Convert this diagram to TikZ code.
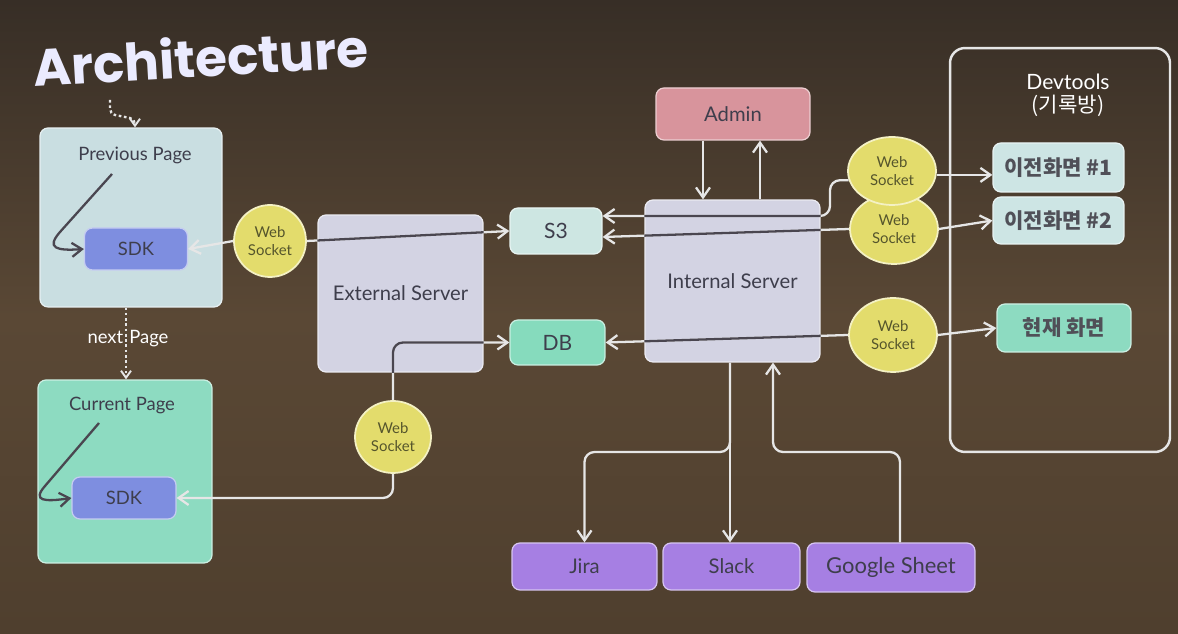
\documentclass[tikz,border=0pt]{standalone}
\usepackage{fontspec}
\usepackage{graphicx}
\setmainfont{Lato}
\newfontfamily\kr{Noto Sans CJK KR}
\newfontfamily\titlefont{Poppins}
\usetikzlibrary{arrows.meta,shapes.geometric}
\definecolor{bgtop}{HTML}{372E26}
\definecolor{bgmid}{HTML}{5A4835}
\definecolor{bgbot}{HTML}{4F3F2E}
\definecolor{prevfill}{HTML}{C9DEE1}
\definecolor{sdkfill}{HTML}{7E8EE0}
\definecolor{curfill}{HTML}{8DDBC1}
\definecolor{wsfill}{HTML}{E3DC6C}
\definecolor{srvfill}{HTML}{D3D3E3}
\definecolor{s3fill}{HTML}{CDE6E2}
\definecolor{dbfill}{HTML}{86DBBD}
\definecolor{adminfill}{HTML}{D8949C}
\definecolor{purp}{HTML}{A67FE3}
\definecolor{kfill}{HTML}{CDE5E4}
\definecolor{txt}{HTML}{3E3E4C}
\definecolor{ktxt}{HTML}{505058}
\definecolor{wstxt}{HTML}{55552C}
\definecolor{linecol}{HTML}{E6E6E6}
\definecolor{darkcol}{HTML}{4A4650}
\tikzset{
  box/.style={rectangle, rounded corners=0.16cm, draw=white!55!#1, line width=0.7pt, fill=#1, text=txt, inner sep=0pt, font=\fontsize{11.5}{13}\selectfont},
  kbox/.style={box=#1, text=ktxt, font=\kr\bfseries\fontsize{12}{14}\selectfont},
  wsnode/.style={ellipse, fill=wsfill, draw=white!60!wsfill, line width=1pt, align=center, text=wstxt, inner sep=0pt, font=\fontsize{8.5}{10}\selectfont},
  conn/.style={draw=linecol, line width=1.3pt, rounded corners=0.2cm},
  arr/.style={conn, -{Straight Barb[length=2mm,width=2.8mm,line width=1.3pt]}},
  darkline/.style={conn, draw=darkcol},
  darkarr/.style={draw=darkcol, line width=1.3pt, -{Straight Barb[length=2mm,width=2.8mm,line width=1.3pt]}},
  dotarr/.style={draw=linecol, line width=1.3pt, dash pattern=on 1.5pt off 1.5pt, rounded corners=0.1cm, -{Straight Barb[length=1.4mm,width=2mm,line width=1.1pt]}},
  lbl/.style={text=txt, font=\fontsize{10.5}{12}\selectfont, inner sep=0pt},
  whitelbl/.style={text=white, font=\fontsize{12}{14}\selectfont, inner sep=0pt},
}
\begin{document}
\begin{tikzpicture}[x=0.02cm,y=-0.02cm]
\useasboundingbox (0,0) rectangle (1178,634);
\shade[top color=bgtop, bottom color=bgbot, middle color=bgmid] (0,0) rectangle (1178,634);

% title
\node[anchor=base west, inner sep=0pt, text=white!92!blue, rotate=3.4] (title) at (34,87) {\resizebox{6.72cm}{!}{\titlefont\bfseries Architecture}};

% pages
\node[box=prevfill, minimum width=3.64cm, minimum height=3.58cm] (prevpage) at (131,217.5) {};
\node[lbl] (prevlbl) at (135,155) {Previous Page};
\node[box=sdkfill, minimum width=2.06cm, minimum height=0.84cm, font=\fontsize{10.5}{12}\selectfont] (sdk1) at (136,249) {SDK};
\node[box=curfill, minimum width=3.48cm, minimum height=3.66cm] (curpage) at (125,471.5) {};
\node[lbl] (curlbl) at (122,406) {Current Page};
\node[box=sdkfill, minimum width=2.08cm, minimum height=0.84cm, font=\fontsize{10.5}{12}\selectfont] (sdk2) at (124,498) {SDK};

% servers and stores
\node[box=srvfill, minimum width=3.3cm, minimum height=3.14cm] (ext) at (400.5,293.5) {External Server};
\node[box=srvfill, minimum width=3.5cm, minimum height=3.24cm] (int) at (732.5,281) {Internal Server};
\node[box=s3fill, minimum width=1.84cm, minimum height=0.92cm, font=\fontsize{12}{14}\selectfont] (s3) at (556,231) {S3};
\node[box=dbfill, minimum width=1.9cm, minimum height=0.9cm, font=\fontsize{12}{14}\selectfont] (db) at (557.5,342.5) {DB};
\node[box=adminfill, minimum width=3.08cm, minimum height=1.04cm] (admin) at (733,114) {Admin};

% integrations
\node[box=purp, minimum width=2.9cm, minimum height=0.94cm] (jira) at (584.5,566.5) {Jira};
\node[box=purp, minimum width=2.74cm, minimum height=0.94cm] (slack) at (731.5,566.5) {Slack};
\node[box=purp, minimum width=3.36cm, minimum height=0.98cm, font=\fontsize{12.5}{14}\selectfont] (gs) at (891,567.5) {Google Sheet};

% web sockets
\node[wsnode, minimum width=1.44cm, minimum height=1.44cm] (ws1) at (270,241) {Web\\Socket};
\node[wsnode, minimum width=1.52cm, minimum height=1.44cm] (ws4) at (393,437) {Web\\Socket};
\node[wsnode, minimum width=1.76cm, minimum height=1.4cm] (wsB) at (894,229) {Web\\Socket};
\node[wsnode, minimum width=1.76cm, minimum height=1.36cm] (wsA) at (892,171) {Web\\Socket};
\node[wsnode, minimum width=1.76cm, minimum height=1.48cm] (wsC) at (893,335) {Web\\Socket};

% devtools
\node[draw=linecol, line width=1.4pt, rounded corners=0.3cm, minimum width=4.4cm, minimum height=8.08cm, inner sep=0pt] (dev) at (1060,250) {};
\node[whitelbl] (devlbl) at (1068,82) {Devtools};
\node[whitelbl] (devlbl2) at (1068,106) {\kr (기록방)};
\node[kbox=kfill, minimum width=2.62cm, minimum height=0.98cm] (k1) at (1058.5,167.5) {이전화면 \#1};
\node[kbox=kfill, minimum width=2.62cm, minimum height=0.94cm] (k2) at (1058.5,220.5) {이전화면 \#2};
\node[kbox=curfill, minimum width=2.68cm, minimum height=0.96cm] (k3) at (1064,328) {현재 화면};

% dotted page links
\coordinate (topstart) at (110,100);
\draw[dotarr] (topstart) -- (110,114) -- (135,119) -- (135,0 |- prevpage.north);
\draw[dotarr] (126,0 |- prevpage.south) -- (126,0 |- curpage.north);
\node[text=white, font=\fontsize{10.5}{12}\selectfont, inner sep=0pt] (nextlbl) at (128,339) {next\hspace{0.12cm}Page};

% SDK inner arrows
\coordinate (p1s) at (112,174);
\draw[darkarr] (p1s) -- (60,232) .. controls (46,248) and (56,251) .. (sdk1.west);
\coordinate (p2s) at (99,423);
\draw[darkarr] (p2s) -- (45,486) .. controls (32,501) and (44,502) .. (sdk2.west);

% web socket connectors (left)
\draw[arr] (ws1.west) -- (sdk1.east);
\draw[arr] (ws1.east) -- (s3.west);
\draw[arr] (ws4.north) |- (db.west);
\draw[arr] (ws4.south) |- (sdk2.east);

% internal server to stores via web sockets
\draw[arr] (wsA.192) -| (830,216) -- (s3.east |- 0,216);
\draw[arr] (wsB.west) -- (s3.east |- 0,237);
\draw[arr] (wsC.west) -- (db.east);

% web sockets to devtools
\draw[arr] (wsA.-5) -- (k1.west |- wsA.-5);
\draw[arr] (wsB.east) -- (k2.west);
\draw[arr] (wsC.east) -- (k3.west);

% admin
\draw[arr] (703,0 |- admin.south) -- (703,0 |- int.north);
\draw[arr] (760,0 |- int.north) -- (760,0 |- admin.south);

% integrations
\draw[arr] (730,0 |- int.south) -- (730,452) -| (jira.north);
\draw[arr] (730,0 |- int.south) -- (730,0 |- slack.north);
\draw[arr] (900,0 |- gs.north) |- (773,452) -- (773,0 |- int.south);

% dark segments over servers
\begin{scope}
  \clip (ext.north west) rectangle (ext.south east);
  \draw[darkline] (ws1.east) -- (s3.west);
  \draw[darkline] (ws4.north) |- (db.west);
\end{scope}
\begin{scope}
  \clip (int.north west) rectangle (int.south east);
  \draw[darkline] (wsA.192) -| (830,216) -- (s3.east |- 0,216);
  \draw[darkline] (wsB.west) -- (s3.east |- 0,237);
  \draw[darkline] (wsC.west) -- (db.east);
\end{scope}
\end{tikzpicture}
\end{document}
